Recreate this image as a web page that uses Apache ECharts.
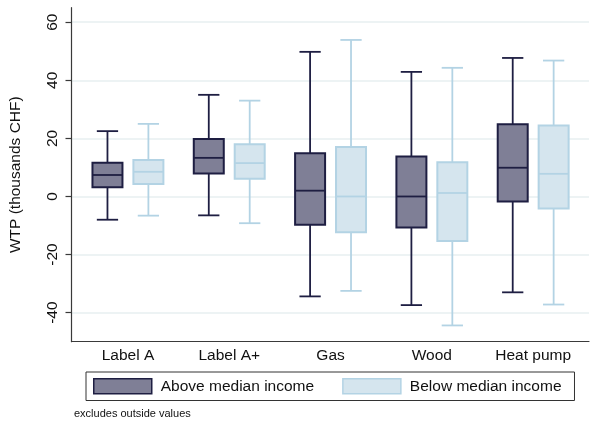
<!DOCTYPE html>
<html>
<head>
<meta charset="utf-8">
<style>
  html, body { margin: 0; padding: 0; background: #fff; }
  #chart { width: 590px; height: 423px; }
</style>
<script src="https://cdn.jsdelivr.net/npm/echarts@6/dist/echarts.min.js"></script>
</head>
<body>
<div id="chart"></div>
<script>
// Heating / label categories
const categories = ['Label A', 'Label A+', 'Gas', 'Wood', 'Heat pump'];

// Five-number summaries per category: [lower whisker, Q1, median, Q3, upper whisker]
const aboveMedianIncome = [
  [-8.0, 3.2, 7.4, 11.6, 22.5],
  [-6.5, 7.9, 13.3, 19.8, 35.0],
  [-34.4, -9.7, 2.0, 14.9, 49.8],
  [-37.4, -10.7, 0.0, 13.8, 42.9],
  [-33.0, -1.7, 9.9, 24.9, 47.7]
];
const belowMedianIncome = [
  [-6.6, 4.3, 8.5, 12.6, 25.0],
  [-9.2, 6.1, 11.5, 18.0, 33.0],
  [-32.5, -12.3, 0.0, 17.0, 53.9],
  [-44.4, -15.3, 1.2, 11.8, 44.3],
  [-37.2, -4.1, 7.8, 24.4, 46.8]
];

const yTicks = [-40, -20, 0, 20, 40, 60];

const seriesNames = ['Above median income', 'Below median income'];
const styles = [
  { fill: '#7f7f96', stroke: '#1e1e42' },
  { fill: '#d5e5ee', stroke: '#b3d3e4' }
];

const BOX_HALF = 0.148;   // half box width, in category units
const CAP_HALF = 0.105;   // half whisker-cap width
const SHIFT = 0.202;      // offset of each group from the category centre

function toRows(summaries) {
  return summaries.map((s, i) => [i].concat(s));
}

function makeRender(shift, st) {
  return function (params, api) {
    const cx = api.value(0) + shift;
    const lo = api.value(1), q1 = api.value(2), md = api.value(3),
          q3 = api.value(4), hi = api.value(5);
    const pLo = api.coord([cx, lo]);
    const pHi = api.coord([cx, hi]);
    const pQ1 = api.coord([cx, q1]);
    const pQ3 = api.coord([cx, q3]);
    const pMd = api.coord([cx, md]);
    const xl = api.coord([cx - BOX_HALF, md])[0];
    const xr = api.coord([cx + BOX_HALF, md])[0];
    const cl = api.coord([cx - CAP_HALF, md])[0];
    const cr = api.coord([cx + CAP_HALF, md])[0];
    const lineStyle = { stroke: st.stroke, lineWidth: 1.8, fill: null };
    return {
      type: 'group',
      children: [
        { type: 'line', shape: { x1: pLo[0], y1: pLo[1], x2: pQ1[0], y2: pQ1[1] }, style: lineStyle },
        { type: 'line', shape: { x1: pQ3[0], y1: pQ3[1], x2: pHi[0], y2: pHi[1] }, style: lineStyle },
        { type: 'line', shape: { x1: cl, y1: pLo[1], x2: cr, y2: pLo[1] }, style: lineStyle },
        { type: 'line', shape: { x1: cl, y1: pHi[1], x2: cr, y2: pHi[1] }, style: lineStyle },
        { type: 'rect', shape: { x: xl, y: pQ3[1], width: xr - xl, height: pQ1[1] - pQ3[1] },
          style: { fill: st.fill, stroke: st.stroke, lineWidth: 2 } },
        { type: 'line', shape: { x1: xl, y1: pMd[1], x2: xr, y2: pMd[1] }, style: lineStyle }
      ]
    };
  };
}

const chart = echarts.init(document.getElementById('chart'), null, { renderer: 'canvas' });
const FONT = 'Liberation Sans, Arial, sans-serif';

chart.setOption({
  animation: false,
  backgroundColor: '#ffffff',
  textStyle: { fontFamily: FONT },
  grid: { left: 71, top: 7.7, width: 518, height: 334, containLabel: false },
  xAxis: {
    type: 'value',
    min: -0.557,
    max: 4.551,
    axisLine: { show: true, onZero: false, lineStyle: { color: '#3a3a3a', width: 1.2 } },
    axisTick: { show: false },
    splitLine: { show: false },
    axisLabel: {
      customValues: [0, 1, 2, 3, 4],
      formatter: v => categories[Math.round(v)],
      color: '#111',
      fontSize: 15.5,
      fontFamily: FONT,
      margin: 6
    }
  },
  yAxis: {
    type: 'value',
    min: -50,
    max: 65,
    name: 'WTP (thousands CHF)',
    nameLocation: 'middle',
    nameGap: 47.5,
    nameTextStyle: { color: '#111', fontSize: 15.5, fontFamily: FONT },
    axisLine: { show: true, onZero: false, lineStyle: { color: '#3a3a3a', width: 1.2 } },
    axisTick: { show: true, customValues: yTicks, length: 6, lineStyle: { color: '#3a3a3a', width: 1.2 } },
    splitLine: { show: true, lineStyle: { color: '#e7eff1', width: 1.5 } },
    axisLabel: {
      customValues: yTicks,
      rotate: 90,
      color: '#111',
      fontSize: 15.5,
      fontFamily: FONT,
      margin: 11
    }
  },
  legend: {
    left: 86,
    top: 372,
    padding: [6, 13, 6, 7],
    itemGap: 28,
    itemWidth: 58,
    itemHeight: 15,
    borderColor: '#333',
    borderWidth: 1,
    textStyle: { color: '#111', fontSize: 15.5, fontFamily: FONT, padding: [0, 0, 0, 4] },
    data: [
      { name: seriesNames[0], icon: 'rect', itemStyle: { color: styles[0].fill, borderColor: styles[0].stroke, borderWidth: 1.5 } },
      { name: seriesNames[1], icon: 'rect', itemStyle: { color: styles[1].fill, borderColor: styles[1].stroke, borderWidth: 1.5 } }
    ]
  },
  graphic: [
    {
      type: 'text',
      left: 74,
      top: 408,
      style: { text: 'excludes outside values', fill: '#111', font: '11px ' + FONT }
    }
  ],
  series: [
    {
      name: seriesNames[0],
      type: 'custom',
      renderItem: makeRender(-SHIFT, styles[0]),
      encode: { x: 0, y: [1, 2, 3, 4, 5] },
      itemStyle: { color: styles[0].fill },
      data: toRows(aboveMedianIncome)
    },
    {
      name: seriesNames[1],
      type: 'custom',
      renderItem: makeRender(SHIFT, styles[1]),
      encode: { x: 0, y: [1, 2, 3, 4, 5] },
      itemStyle: { color: styles[1].fill },
      data: toRows(belowMedianIncome)
    }
  ]
});
</script>
</body>
</html>
